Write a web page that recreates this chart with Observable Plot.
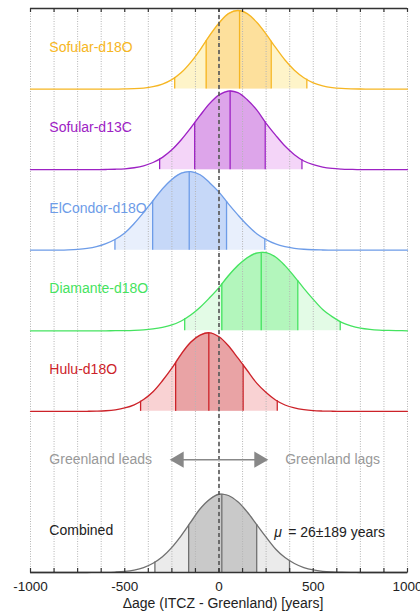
<!DOCTYPE html>
<html><head><meta charset="utf-8">
<script src="https://cdn.jsdelivr.net/npm/d3@7"></script>
<script src="https://cdn.jsdelivr.net/npm/@observablehq/plot@0.6"></script>
<style>body{margin:0;background:#fff}</style>
</head><body><div id="chart"></div>
<script>
// sample positions (years) for the density curves
const xGrid = d3.range(-1000, 1001, 50);

// relative density (peak ~ 1)
const sofularD18O = [0,0,0,0,0,0,0,0,0,0,
  0.002,0.005,0.013,0.03,0.063,0.12,0.21,0.34,0.50,0.68,0.84,0.96,1.0,0.96,0.85,0.70,0.53,0.37,0.24,0.145,0.08,0.041,0.019,0.008,0.003,0.001,
  0,0,0,0,0];
const sofularD13C = [0,0,0,0,0,0,0,0,
  0.002,0.005,0.011,0.024,0.048,0.091,0.156,0.252,0.38,0.53,0.69,0.84,0.95,1.0,0.98,0.89,0.76,0.59,0.44,0.30,0.19,0.11,0.063,0.032,0.015,0.007,0.003,
  0,0,0,0,0,0];
const elCondorD18O = [0,0,
  0.001,0.002,0.005,0.011,0.023,0.045,0.083,0.14,0.22,0.34,0.48,0.63,0.78,0.90,0.98,1.0,0.96,0.86,0.74,0.59,0.45,0.32,0.21,0.135,0.08,0.045,0.024,0.012,0.006,0.003,0.001,
  0,0,0,0,0,0,0,0];
const diamanteD18O = [0,0,0,0,0,0,0,0,0,
  0.001,0.002,0.005,0.011,0.023,0.043,0.075,0.125,0.20,0.30,0.42,0.55,0.70,0.83,0.93,0.99,0.994,0.94,0.83,0.69,0.54,0.40,0.27,0.18,0.108,0.062,0.033,0.017,0.008,0.004,0.0015,0];
const huluD18O = [0,0,0,0,0,0,
  0.001,0.003,0.008,0.020,0.043,0.083,0.15,0.25,0.39,0.55,0.73,0.88,0.97,1.0,0.95,0.835,0.68,0.52,0.36,0.24,0.145,0.081,0.043,0.021,0.009,0.004,0.0015,
  0,0,0,0,0,0,0,0];
const combinedAll = [0,0,0,0,0,0,0,
  0.001,0.002,0.006,0.014,0.031,0.062,0.117,0.20,0.32,0.47,0.64,0.81,0.93,0.996,0.98,0.90,0.77,0.61,0.45,0.30,0.19,0.115,0.063,0.032,0.015,0.007,0.003,0.001,
  0,0,0,0,0,0];

// percentiles 2.5, 16, 50, 84, 97.5 (years)
const qSofularD18O = [-235, -68, 109, 277, 466];
const qSofularD13C = [-315, -129, 59, 245, 440];
const qElCondorD18O = [-552, -352, -158, 40, 243];
const qDiamanteD18O = [-182, 15, 224, 418, 643];
const qHuluD18O = [-416, -230, -54, 128, 309];
const qCombined = [-340, -161, 15, 200, 374];

const panelNames = ["Sofular-d18O", "Sofular-d13C", "ElCondor-d18O", "Diamante-d18O", "Hulu-d18O", "Combined"];
const panelSlots = [6, 5, 4, 3, 2, 0];
const lineColors = ["#f6b623", "#9d22c4", "#6d9ce8", "#45e360", "#cc2229", "#707070"];
const darkFills = ["#fde09c", "#dda5ea", "#c6d8f8", "#b3f6bc", "#e9a3a5", "#c9c9c9"];
const lightFills = ["#fef4c9", "#f4d5f8", "#e8effc", "#e3fbe6", "#f9d2d3", "#ebebeb"];
const labelColors = ["#f6b623", "#9d22c4", "#6d9ce8", "#45e360", "#cc2229", "#222222"];
const allValues = [sofularD18O, sofularD13C, elCondorD18O, diamanteD18O, huluD18O, combinedAll];
const allQuantiles = [qSofularD18O, qSofularD13C, qElCondorD18O, qDiamanteD18O, qHuluD18O, qCombined];

const gridTicks = d3.range(-1000, 1001, 125);
const labelTicks = [-1000, -500, 0, 500, 1000];
const arrowY = 1.4;
const leadsText = "Greenland leads";
const lagsText = "Greenland lags";
const muValue = "= 26±189 years";
const xLabel = "Δage (ITCZ - Greenland) [years]";

const A = 0.975;
const tickLen = 4 / 80.57;
const curve = "catmull-rom";

function interp(vals, x) {
  const i = Math.max(0, Math.min(Math.floor((x + 1000) / 50), xGrid.length - 2));
  const t = (x - xGrid[i]) / 50;
  return vals[i] * (1 - t) + vals[i + 1] * t;
}

const panels = panelNames.map((name, k) => ({
  name, slot: panelSlots[k], line: lineColors[k], dark: darkFills[k], light: lightFills[k],
  label: labelColors[k], values: allValues[k], q: allQuantiles[k]
}));

const fillMarks = [], ruleMarks = [], lineMarks = [];
panels.forEach(p => {
  const pts = xGrid.map((x, i) => ({x, h: p.values[i]}));
  const band = (lo, hi) => [{x: lo, h: interp(p.values, lo)}, ...pts.filter(d => d.x > lo && d.x < hi), {x: hi, h: interp(p.values, hi)}];
  fillMarks.push(Plot.areaY(band(p.q[0], p.q[4]), {x: "x", y1: p.slot, y2: d => p.slot + A * d.h, fill: p.light, curve}));
  fillMarks.push(Plot.areaY(band(p.q[1], p.q[3]), {x: "x", y1: p.slot, y2: d => p.slot + A * d.h, fill: p.dark, curve}));
  ruleMarks.push(Plot.ruleX(p.q, {x: d => d, y1: p.slot, y2: d => p.slot + A * interp(p.values, d), stroke: p.line, strokeWidth: 1.3}));
  lineMarks.push(Plot.line(pts, {x: "x", y: d => p.slot + A * d.h, stroke: p.line, strokeWidth: 1.3, curve}));
});

const chart = Plot.plot({
  width: 420, height: 611,
  marginLeft: 30, marginRight: 13, marginTop: 8, marginBottom: 39,
  x: {domain: [-1000, 1000], axis: null},
  y: {domain: [0, 7], axis: null},
  style: {fontFamily: "'Liberation Sans', Arial, sans-serif", fontSize: "14px", background: "white"},
  marks: [
    ...fillMarks,
    Plot.ruleX(gridTicks, {x: d => d, y1: 0, y2: 7, stroke: "#b5b5b5", strokeDasharray: "1,1.5", strokeWidth: 1}),
    ...ruleMarks,
    ...lineMarks,
    Plot.ruleX([0], {x: d => d, y1: 0, y2: 7, stroke: "#555", strokeWidth: 1.6, strokeDasharray: "4,3"}),
    Plot.ruleY([0, 7], {y: d => d, stroke: "#333", strokeWidth: 1.3}),
    Plot.ruleX(gridTicks, {x: d => d, y1: 7, y2: 7 - tickLen, stroke: "#333", strokeWidth: 1.2}),
    Plot.ruleX(gridTicks, {x: d => d, y1: 0, y2: tickLen, stroke: "#333", strokeWidth: 1.2}),
    Plot.text(labelTicks, {x: d => d, y: 0, dy: 14, lineAnchor: "middle", text: d => String(d), fill: "#222", fontSize: 13.5}),
    Plot.text([xLabel], {frameAnchor: "bottom", dy: 31, dx: 4, lineAnchor: "middle", text: d => d, fill: "#222", fontSize: 14}),
    Plot.text(panels, {x: -900, y: d => d.slot + 0.52, text: "name", fill: "label", textAnchor: "start", fontSize: 14}),
    Plot.line([-215, 215], {x: d => d, y: arrowY, stroke: "#888", strokeWidth: 1.6}),
    Plot.dot([{x: -212, r: -90}, {x: 212, r: 90}], {x: "x", y: arrowY, symbol: "triangle", rotate: "r", r: 6, fill: "#888"}),
    Plot.text([leadsText], {x: -900, y: arrowY, text: d => d, fill: "#999", textAnchor: "start", fontSize: 14}),
    Plot.text([lagsText], {x: 351, y: arrowY, text: d => d, fill: "#999", textAnchor: "start", fontSize: 14}),
    Plot.text(["μ"], {x: 293, y: 0.5, text: d => d, fill: "#222", textAnchor: "start", fontStyle: "italic", fontSize: 14}),
    Plot.text([muValue], {x: 367, y: 0.5, text: d => d, fill: "#222", textAnchor: "start", fontSize: 14})
  ]
});
document.getElementById("chart").appendChild(chart);
</script>
</body></html>
